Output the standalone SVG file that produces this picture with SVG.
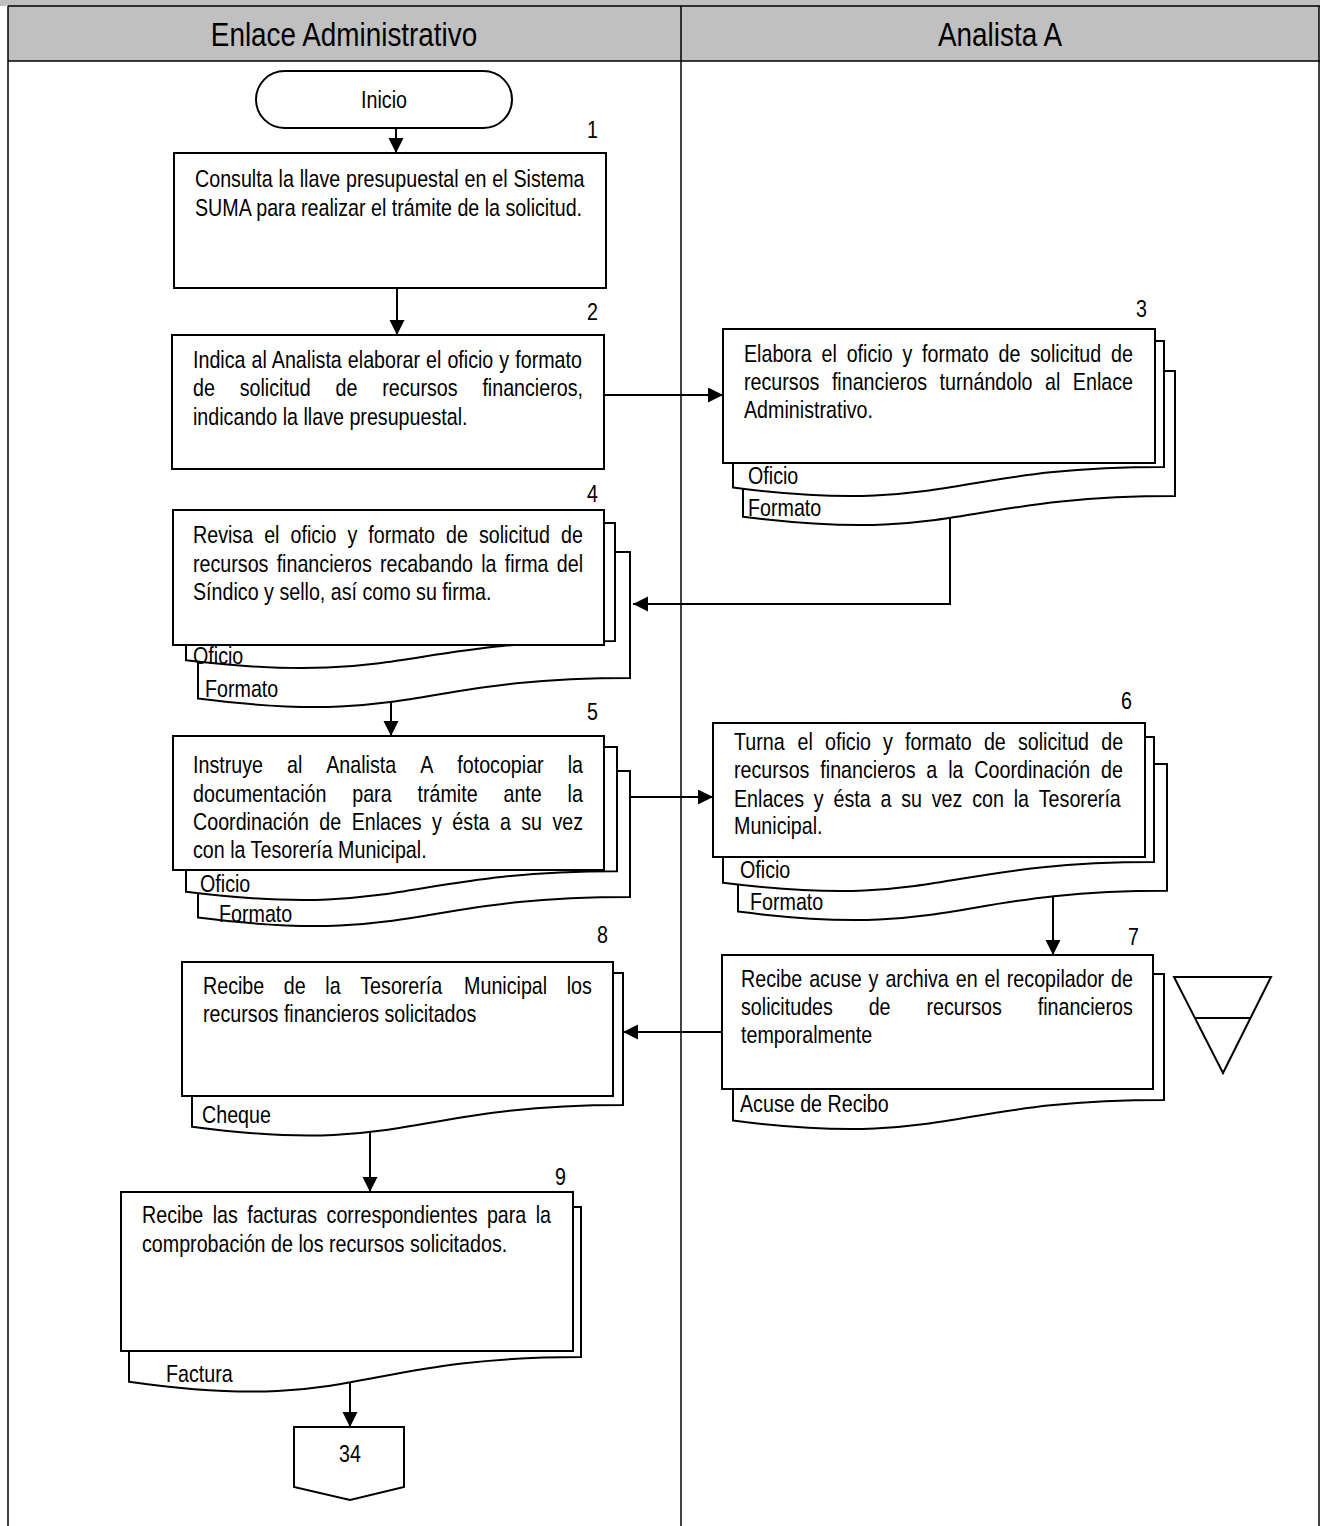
<svg xmlns="http://www.w3.org/2000/svg" width="1320" height="1526" viewBox="0 0 1320 1526">
<defs>
<style>
.box{fill:#fff;stroke:#000;stroke-width:2}
.lane{stroke:#000;stroke-width:1.5;fill:none}
.t{font-family:"Liberation Sans",Arial,sans-serif;font-size:24px;fill:#000}
.h{font-size:34px}
.e{text-anchor:end}
.m{text-anchor:middle}
.conn{stroke:#000;stroke-width:2;fill:none}
</style>
<marker id="ah" markerUnits="userSpaceOnUse" markerWidth="16" markerHeight="16" refX="15" refY="7.5" orient="auto"><path d="M0,0 L15,7.5 L0,15 Z" fill="#000"/></marker>
</defs>
<rect width="1320" height="1526" fill="#fff"/>
<g id="lanes">
<rect x="0" y="0" width="1320" height="6" fill="#c0c0c0"/>
<rect x="8" y="6" width="1311" height="55" fill="#c0c0c0"/>
<line class="lane" x1="8" y1="6" x2="1320" y2="6"/>
<line class="lane" x1="8" y1="61" x2="1320" y2="61"/>
<line class="lane" x1="8" y1="6" x2="8" y2="1526"/>
<line class="lane" x1="681" y1="6" x2="681" y2="1526"/>
<line class="lane" x1="1319" y1="6" x2="1319" y2="1526"/>
<text class="t h m" transform="translate(344,46) scale(0.82,1)">Enlace Administrativo</text>
<text class="t h m" transform="translate(1000,46) scale(0.82,1)">Analista A</text>
</g>
<g id="connectors">
<line class="conn" x1="396" y1="128" x2="396" y2="153" marker-end="url(#ah)"/>
<line class="conn" x1="397" y1="288" x2="397" y2="335" marker-end="url(#ah)"/>
<line class="conn" x1="604" y1="395" x2="723" y2="395" marker-end="url(#ah)"/>
<polyline class="conn" points="950,517 950,604 633,604" marker-end="url(#ah)"/>
<line class="conn" x1="391" y1="702" x2="391" y2="736" marker-end="url(#ah)"/>
<line class="conn" x1="630" y1="797" x2="713" y2="797" marker-end="url(#ah)"/>
<line class="conn" x1="1053" y1="897" x2="1053" y2="955" marker-end="url(#ah)"/>
<line class="conn" x1="722" y1="1032" x2="623" y2="1032" marker-end="url(#ah)"/>
<line class="conn" x1="370" y1="1132" x2="370" y2="1192" marker-end="url(#ah)"/>
<line class="conn" x1="350" y1="1381" x2="350" y2="1427" marker-end="url(#ah)"/>
</g>
<g id="inicio">
<rect class="box" x="256" y="71" width="256" height="57" rx="28.5"/>
<text class="t m" transform="translate(384,108) scale(0.82,1)">Inicio</text>
</g>
<g id="step1">
<text class="t e" transform="translate(598,138) scale(0.82,1)">1</text>
<rect class="box" x="174" y="153" width="432" height="135"/>
<text class="t" transform="translate(195,187) scale(0.82,1)" word-spacing="0.5">Consulta la llave presupuestal en el Sistema</text>
<text class="t" transform="translate(195,216) scale(0.82,1)">SUMA para realizar el trámite de la solicitud.</text>
</g>
<g id="step2">
<text class="t e" transform="translate(598,320) scale(0.82,1)">2</text>
<rect class="box" x="172" y="335" width="432" height="134"/>
<text class="t" transform="translate(193,368) scale(0.82,1)" word-spacing="0.7">Indica al Analista elaborar el oficio y formato</text>
<text class="t" transform="translate(193,396) scale(0.82,1)"><tspan x="0">de</tspan><tspan x="56.9">solicitud</tspan><tspan x="173.8">de</tspan><tspan x="230.7">recursos</tspan><tspan x="352.9">financieros,</tspan></text>
<text class="t" transform="translate(193,425) scale(0.82,1)">indicando la llave presupuestal.</text>
</g>
<g id="step3">
<text class="t e" transform="translate(1147,317) scale(0.82,1)">3</text>
<path class="box" d="M743,371 H1175 V496.1 C959,496.1 959,543.8 743,516.7 Z"/>
<path class="box" d="M733,341 H1164 V466.9 C948.5,466.9 948.5,514.9 733,487.6 Z"/>
<rect class="box" x="723" y="329" width="432" height="134"/>
<text class="t" transform="translate(744,362) scale(0.82,1)"><tspan x="0">Elabora</tspan><tspan x="94.6">el</tspan><tspan x="125.2">oficio</tspan><tspan x="193.2">y</tspan><tspan x="217.1">formato</tspan><tspan x="310.4">de</tspan><tspan x="349">solicitud</tspan><tspan x="447.6">de</tspan></text>
<text class="t" transform="translate(744,390) scale(0.82,1)"><tspan x="0">recursos</tspan><tspan x="107.2">financieros</tspan><tspan x="238.5">turnándolo</tspan><tspan x="367.1">al</tspan><tspan x="401">Enlace</tspan></text>
<text class="t" transform="translate(744,418) scale(0.82,1)">Administrativo.</text>
<text class="t" transform="translate(748,484) scale(0.82,1)">Oficio</text>
<text class="t" transform="translate(748,516) scale(0.82,1)">Formato</text>
</g>
<g id="step4">
<text class="t e" transform="translate(598,502) scale(0.82,1)">4</text>
<path class="box" d="M198,552 H630 V677.9 C414,677.9 414,725.9 198,698.6 Z"/>
<path class="box" d="M186,523 H615 V640.9 C400.5,640.9 400.5,685.8 186,660.3 Z"/>
<rect class="box" x="173" y="510" width="431" height="135"/>
<text class="t" transform="translate(193,543) scale(0.82,1)"><tspan x="0">Revisa</tspan><tspan x="86.8">el</tspan><tspan x="118.9">oficio</tspan><tspan x="188.4">y</tspan><tspan x="213.8">formato</tspan><tspan x="308.6">de</tspan><tspan x="348.7">solicitud</tspan><tspan x="448.8">de</tspan></text>
<text class="t" transform="translate(193,572) scale(0.82,1)"><tspan x="0">recursos</tspan><tspan x="102">financieros</tspan><tspan x="228.1">recabando</tspan><tspan x="351.5">la</tspan><tspan x="380.2">firma</tspan><tspan x="443.6">del</tspan></text>
<text class="t" transform="translate(193,600) scale(0.82,1)">Síndico y sello, así como su firma.</text>
<text class="t" transform="translate(193,664) scale(0.82,1)">Oficio</text>
<text class="t" transform="translate(205,697) scale(0.82,1)">Formato</text>
</g>
<g id="step5">
<text class="t e" transform="translate(598,720) scale(0.82,1)">5</text>
<path class="box" d="M198,771 H630 V896.9 C414,896.9 414,944.9 198,917.6 Z"/>
<path class="box" d="M186,747 H617 V871.3 C401.5,871.3 401.5,918.7 186,891.8 Z"/>
<rect class="box" x="173" y="736" width="431" height="134"/>
<text class="t" transform="translate(193,773) scale(0.82,1)"><tspan x="0">Instruye</tspan><tspan x="114.6">al</tspan><tspan x="162.5">Analista</tspan><tspan x="277.1">A</tspan><tspan x="322.3">fotocopiar</tspan><tspan x="456.9">la</tspan></text>
<text class="t" transform="translate(193,802) scale(0.82,1)"><tspan x="0">documentación</tspan><tspan x="194.2">para</tspan><tspan x="273.8">trámite</tspan><tspan x="378.6">ante</tspan><tspan x="456.8">la</tspan></text>
<text class="t" transform="translate(193,830) scale(0.82,1)"><tspan x="0">Coordinación</tspan><tspan x="154.1">de</tspan><tspan x="193.5">Enlaces</tspan><tspan x="291.6">y</tspan><tspan x="316.3">ésta</tspan><tspan x="374.3">a</tspan><tspan x="400.3">su</tspan><tspan x="438.3">vez</tspan></text>
<text class="t" transform="translate(193,858) scale(0.82,1)">con la Tesorería Municipal.</text>
<text class="t" transform="translate(200,892) scale(0.82,1)">Oficio</text>
<text class="t" transform="translate(219,922) scale(0.82,1)">Formato</text>
</g>
<g id="step6">
<text class="t e" transform="translate(1132,709) scale(0.82,1)">6</text>
<path class="box" d="M738,764 H1167 V890.7 C952.5,890.7 952.5,939 738,911.6 Z"/>
<path class="box" d="M723,737 H1154 V862.1 C938.5,862.1 938.5,909.8 723,882.7 Z"/>
<rect class="box" x="713" y="723" width="432" height="134"/>
<text class="t" transform="translate(734,750) scale(0.82,1)"><tspan x="0">Turna</tspan><tspan x="77.5">el</tspan><tspan x="111">oficio</tspan><tspan x="181.8">y</tspan><tspan x="208.6">formato</tspan><tspan x="304.8">de</tspan><tspan x="346.3">solicitud</tspan><tspan x="447.8">de</tspan></text>
<text class="t" transform="translate(734,778) scale(0.82,1)"><tspan x="0">recursos</tspan><tspan x="105.3">financieros</tspan><tspan x="234.6">a</tspan><tspan x="261.2">la</tspan><tspan x="293.1">Coordinación</tspan><tspan x="447.7">de</tspan></text>
<text class="t" transform="translate(734,807) scale(0.82,1)"><tspan x="0">Enlaces</tspan><tspan x="97.3">y</tspan><tspan x="121.3">ésta</tspan><tspan x="178.6">a</tspan><tspan x="203.9">su</tspan><tspan x="241.2">vez</tspan><tspan x="290.5">con</tspan><tspan x="341.1">la</tspan><tspan x="371.7">Tesorería</tspan></text>
<text class="t" transform="translate(734,834) scale(0.82,1)">Municipal.</text>
<text class="t" transform="translate(740,878) scale(0.82,1)">Oficio</text>
<text class="t" transform="translate(750,910) scale(0.82,1)">Formato</text>
</g>
<g id="step7">
<text class="t e" transform="translate(1139,945) scale(0.82,1)">7</text>
<path class="box" d="M733,974 H1164 V1099.9 C948.5,1099.9 948.5,1147.9 733,1120.6 Z"/>
<rect class="box" x="722" y="955" width="431" height="134"/>
<text class="t" transform="translate(741,987) scale(0.82,1)" word-spacing="1.8">Recibe acuse y archiva en el recopilador de</text>
<text class="t" transform="translate(741,1015) scale(0.82,1)"><tspan x="0">solicitudes</tspan><tspan x="155.7">de</tspan><tspan x="226.1">recursos</tspan><tspan x="361.8">financieros</tspan></text>
<text class="t" transform="translate(741,1043) scale(0.82,1)">temporalmente</text>
<text class="t" transform="translate(740,1112) scale(0.82,1)">Acuse de Recibo</text>
</g>
<g id="archivo">
<path class="box" d="M1174,977 L1271,977 L1223,1073 Z"/>
<line class="conn" x1="1195" y1="1018" x2="1251" y2="1018"/>
</g>
<g id="step8">
<text class="t e" transform="translate(608,943) scale(0.82,1)">8</text>
<path class="box" d="M192,973 H623 V1105 C407.5,1105 407.5,1155.3 192,1126.7 Z"/>
<rect class="box" x="182" y="962" width="431" height="134"/>
<text class="t" transform="translate(203,994) scale(0.82,1)"><tspan x="0">Recibe</tspan><tspan x="98.6">de</tspan><tspan x="149.2">la</tspan><tspan x="191.8">Tesorería</tspan><tspan x="318.4">Municipal</tspan><tspan x="443.6">los</tspan></text>
<text class="t" transform="translate(203,1022) scale(0.82,1)">recursos financieros solicitados</text>
<text class="t" transform="translate(202,1123) scale(0.82,1)">Cheque</text>
</g>
<g id="step9">
<text class="t e" transform="translate(566,1185) scale(0.82,1)">9</text>
<path class="box" d="M129,1207 H581 V1357 C355,1357 355,1414.1 129,1381.7 Z"/>
<rect class="box" x="121" y="1192" width="452" height="159"/>
<text class="t" transform="translate(142,1223) scale(0.82,1)"><tspan x="0">Recibe</tspan><tspan x="86.2">las</tspan><tspan x="128.3">facturas</tspan><tspan x="225.1">correspondientes</tspan><tspan x="420.6">para</tspan><tspan x="480.1">la</tspan></text>
<text class="t" transform="translate(142,1252) scale(0.82,1)">comprobación de los recursos solicitados.</text>
<text class="t" transform="translate(166,1382) scale(0.82,1)">Factura</text>
</g>
<g id="conector34">
<path class="box" d="M294,1427 H404 V1487 L350,1500 L294,1487 Z"/>
<text class="t m" transform="translate(350,1462) scale(0.82,1)">34</text>
</g>
</svg>
